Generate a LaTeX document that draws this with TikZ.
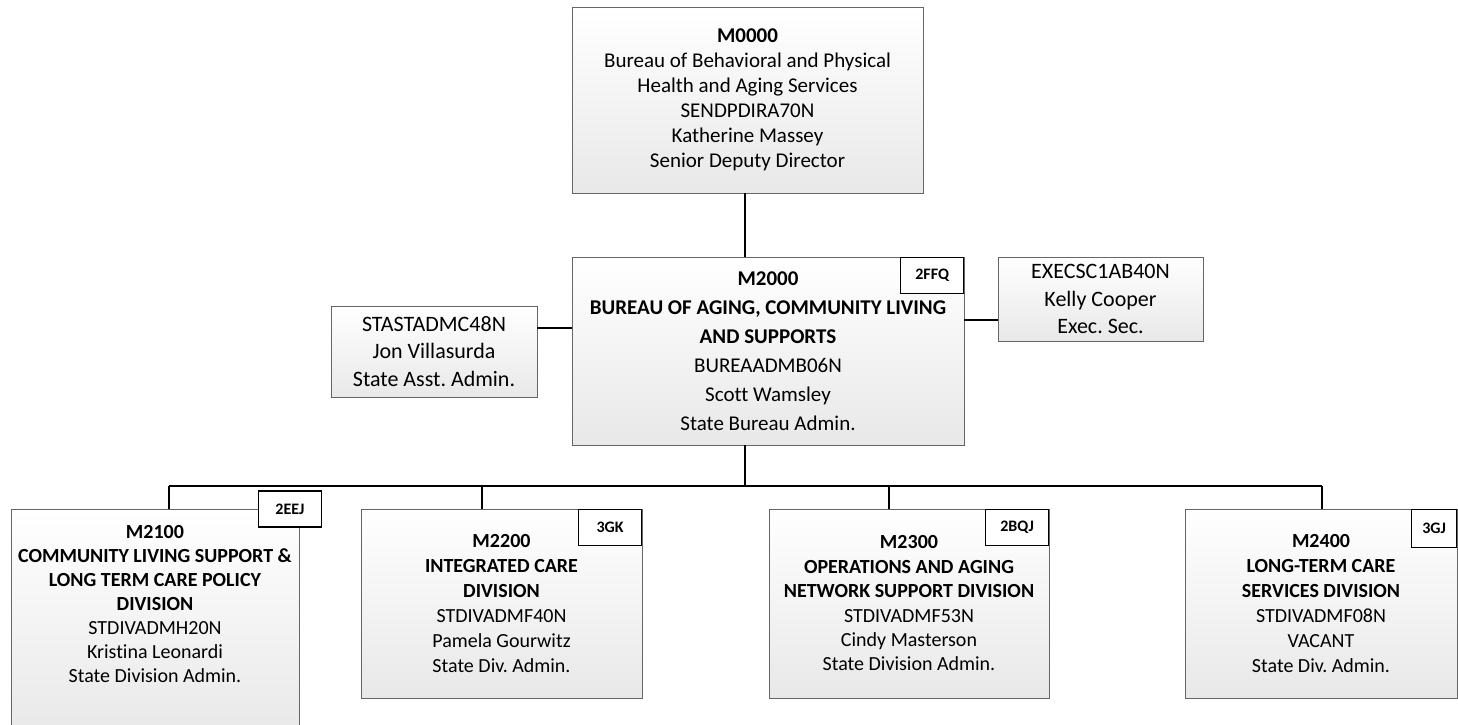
\documentclass[tikz,border=0pt]{standalone}
\usepackage{fontspec}
\setmainfont{Carlito}[Ligatures=CommonOff]
\frenchspacing

\tikzset{
    stelle/.style={draw=black!60, line width=0.8pt, top color=white, bottom color=black!9,
        align=center, inner sep=2pt, font=\fontsize{21pt}{#1}\selectfont},
    stelle/.default=25pt,
    abteilung/.style={stelle=#1, font=\fontsize{20pt}{#1}\selectfont},
    kennung/.style={draw, line width=1.5pt, fill=white, inner sep=0pt,
        minimum width=63, minimum height=36, font=\bfseries\fontsize{16pt}{19pt}\selectfont},
    linie/.style={line width=1.5pt}
}

\begin{document}
\begin{tikzpicture}[x=1pt, y=-1pt]
    \useasboundingbox (0,0) rectangle (1458,724);
    \clip (0,0) rectangle (1458,724);
    \path node[stelle, minimum width=351, minimum height=186] (M0000) at (747.5,100)
            {\textbf{M0000}\\Bureau of Behavioral and Physical\\Health and Aging Services\\SENDPDIRA70N\\Katherine Massey\\Senior Deputy Director}
        node[stelle=29pt, minimum width=392, minimum height=188] (M2000) at (768,351)
            {\textbf{M2000}\\\textbf{BUREAU OF AGING, COMMUNITY LIVING}\\\textbf{AND SUPPORTS}\\BUREAADMB06N\\Scott Wamsley\\State Bureau Admin.}
        node[stelle=27.5pt, font=\fontsize{22pt}{27.5pt}\selectfont, minimum width=206, minimum height=91] (asst) at (434,351.5)
            {STASTADMC48N\\Jon Villasurda\\State Asst. Admin.}
        node[stelle=27.5pt, font=\fontsize{22pt}{27.5pt}\selectfont, minimum width=205, minimum height=84] (sek) at (1100.5,299)
            {EXECSC1AB40N\\Kelly Cooper\\Exec. Sec.}
        node[abteilung=24pt, minimum width=288, anchor=north, inner ysep=16pt, text depth=40pt] (M2100) at (155,509)
            {\textbf{M2100}\\\textbf{COMMUNITY LIVING SUPPORT \&}\\\textbf{LONG TERM CARE POLICY}\\\textbf{DIVISION}\\STDIVADMH20N\\Kristina Leonardi\\State Division Admin.}
        node[abteilung=25pt, minimum width=281, minimum height=189] (M2200) at (501.5,603.5)
            {\textbf{M2200}\\\textbf{INTEGRATED CARE}\\\textbf{DIVISION}\\STDIVADMF40N\\Pamela Gourwitz\\State Div. Admin.}
        node[abteilung=24.4pt, minimum width=280, minimum height=189] (M2300) at (909,603.5)
            {\textbf{M2300}\\\textbf{OPERATIONS AND AGING}\\\textbf{NETWORK SUPPORT DIVISION}\\STDIVADMF53N\\Cindy Masterson\\State Division Admin.}
        node[abteilung=25pt, minimum width=272, minimum height=189] (M2400) at (1321,603.5)
            {\textbf{M2400}\\\textbf{LONG-TERM CARE}\\\textbf{SERVICES DIVISION}\\STDIVADMF08N\\VACANT\\State Div. Admin.};
    \path node[kennung, anchor=north east] (k2000) at (M2000.north east) {2FFQ}
        node[kennung] (k2100) at (290,509) {2EEJ}
        node[kennung, anchor=north east] (k2200) at (M2200.north east) {3GK}
        node[kennung, anchor=north east] (k2300) at (M2300.north east) {2BQJ}
        node[kennung, anchor=north east, minimum width=45, minimum height=38] (k2400) at (M2400.north east) {3GJ};
    \coordinate (achse) at (745,0);
    \coordinate (links) at (0,328);
    \coordinate (rechts) at (0,320);
    \coordinate (b1) at (169,486);
    \coordinate (b2) at (482,486);
    \coordinate (b3) at (889,486);
    \coordinate (b4) at (1322,486);
    \draw[linie] (M0000.south -| achse) -- (M2000.north -| achse);
    \draw[linie] (M2000.south -| achse) -- (achse |- b1);
    \draw[linie] (asst.east |- links) -- (M2000.west |- links);
    \draw[linie] (M2000.east |- rechts) -- (sek.west |- rechts);
    \draw[linie] (b1) -- (b4);
    \draw[linie] (b1) -- (b1 |- M2100.north);
    \draw[linie] (b2) -- (b2 |- M2200.north);
    \draw[linie] (b3) -- (b3 |- M2300.north);
    \draw[linie] (b4) -- (b4 |- M2400.north);
\end{tikzpicture}
\end{document}
